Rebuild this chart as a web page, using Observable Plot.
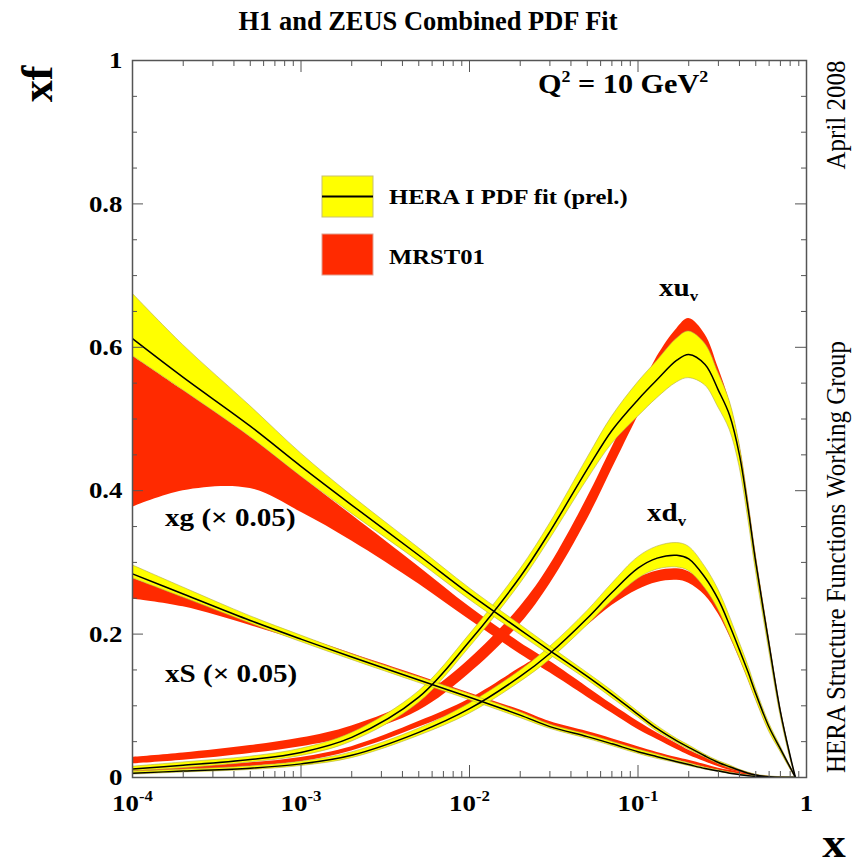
<!DOCTYPE html>
<html><head><meta charset="utf-8">
<script src="https://cdn.jsdelivr.net/npm/d3@7"></script>
<script src="https://cdn.jsdelivr.net/npm/@observablehq/plot@0.6"></script>
<style>body{margin:0;background:#fff} svg{display:block}</style>
</head><body><div id="chart"></div>
<script>
// ---- data ----
const xGrid = [1e-4, 2e-4, 5e-4, 1e-3, 2e-3, 5e-3, 0.01, 0.02, 0.03, 0.05, 0.07, 0.1, 0.13, 0.17, 0.2, 0.25, 0.3, 0.35, 0.4, 0.45, 0.5, 0.6, 0.7, 0.8, 0.86];

// xu_v
const xuvFit    = [0.012,0.017,0.025,0.035,0.056,0.112,0.190,0.280,0.343,0.430,0.484,0.527,0.555,0.582,0.590,0.576,0.540,0.505,0.450,0.375,0.300,0.185,0.092,0.030,0];
const xuvFitLo  = [0.009,0.013,0.021,0.030,0.050,0.104,0.181,0.270,0.332,0.415,0.465,0.503,0.529,0.551,0.557,0.547,0.516,0.485,0.434,0.362,0.289,0.177,0.087,0.027,0];
const xuvFitHi  = [0.015,0.021,0.029,0.040,0.062,0.120,0.199,0.290,0.354,0.445,0.503,0.551,0.581,0.612,0.622,0.605,0.564,0.525,0.466,0.388,0.311,0.193,0.097,0.033,0];
const xuvMrstLo = [0.019,0.024,0.0335,0.043,0.058,0.093,0.145,0.214,0.270,0.360,0.430,0.504,0.557,0.596,0.608,0.588,0.545,0.500,0.444,0.370,0.295,0.181,0.089,0.028,0];
const xuvMrstHi = [0.028,0.034,0.0445,0.055,0.072,0.111,0.165,0.238,0.296,0.390,0.460,0.532,0.587,0.626,0.640,0.618,0.571,0.524,0.466,0.390,0.313,0.195,0.099,0.034,0.002];

// xd_v
const xdvFit    = [0.006,0.009,0.013,0.019,0.031,0.063,0.096,0.141,0.173,0.222,0.258,0.292,0.306,0.310,0.305,0.279,0.248,0.212,0.178,0.147,0.117,0.070,0.040,0.014,0];
const xdvFitLo  = [0.004,0.007,0.0105,0.016,0.027,0.058,0.089,0.133,0.164,0.212,0.246,0.277,0.290,0.293,0.288,0.264,0.234,0.199,0.167,0.137,0.109,0.064,0.036,0.012,0];
const xdvFitHi  = [0.008,0.011,0.0155,0.022,0.035,0.068,0.103,0.149,0.182,0.232,0.270,0.307,0.322,0.327,0.322,0.294,0.262,0.225,0.189,0.157,0.125,0.076,0.044,0.016,0];
const xdvMrstLo = [0.007,0.010,0.0155,0.022,0.037,0.070,0.1005,0.143,0.169,0.212,0.240,0.262,0.272,0.275,0.271,0.254,0.228,0.197,0.166,0.137,0.109,0.065,0.037,0.012,0];
const xdvMrstHi = [0.011,0.014,0.0205,0.028,0.043,0.078,0.1095,0.153,0.179,0.224,0.254,0.278,0.288,0.291,0.287,0.270,0.244,0.211,0.178,0.149,0.119,0.073,0.043,0.016,0.001];

// xg (x 0.05)
const xgFit     = [0.612,0.558,0.490,0.434,0.380,0.310,0.256,0.206,0.177,0.141,0.116,0.088,0.068,0.051,0.042,0.030,0.021,0.015,0.010,0.006,0.0035,0.001,0,0,0];
const xgFitLo   = [0.588,0.540,0.475,0.420,0.368,0.301,0.248,0.199,0.171,0.136,0.111,0.084,0.064,0.048,0.039,0.028,0.019,0.013,0.009,0.005,0.003,0.0005,0,0,0];
const xgFitHi   = [0.675,0.603,0.518,0.452,0.393,0.320,0.264,0.213,0.183,0.146,0.121,0.092,0.072,0.054,0.045,0.032,0.023,0.017,0.011,0.007,0.004,0.0015,0.0005,0,0];
const xgMrstLo  = [0.377,0.400,0.403,0.370,0.330,0.270,0.220,0.172,0.146,0.112,0.090,0.067,0.053,0.039,0.031,0.022,0.015,0.010,0.007,0.004,0.002,0.0005,0,0,0];
const xgMrstHi  = [0.588,0.540,0.475,0.420,0.366,0.294,0.238,0.188,0.162,0.126,0.102,0.078,0.062,0.047,0.038,0.028,0.020,0.014,0.010,0.007,0.004,0.0015,0.0005,0,0];

// xS (x 0.05)
const xsFit     = [0.284,0.256,0.219,0.193,0.168,0.136,0.112,0.087,0.071,0.057,0.047,0.036,0.029,0.022,0.018,0.0125,0.009,0.006,0.004,0.0025,0.0015,0.0005,0,0,0];
const xsFitLo   = [0.278,0.251,0.215,0.189,0.164,0.132,0.108,0.083,0.068,0.054,0.044,0.033,0.026,0.020,0.016,0.011,0.008,0.005,0.0035,0.002,0.001,0,0,0,0];
const xsFitHi   = [0.296,0.265,0.225,0.198,0.172,0.140,0.116,0.091,0.074,0.060,0.050,0.039,0.032,0.024,0.020,0.014,0.010,0.007,0.0045,0.003,0.002,0.001,0,0,0];
const xsMrstLo  = [0.249,0.238,0.212,0.190,0.167,0.136,0.113,0.089,0.073,0.059,0.049,0.038,0.031,0.024,0.020,0.014,0.010,0.007,0.005,0.003,0.002,0.0005,0,0,0];
const xsMrstHi  = [0.278,0.253,0.222,0.197,0.173,0.142,0.118,0.094,0.078,0.064,0.054,0.043,0.035,0.028,0.024,0.018,0.013,0.010,0.007,0.005,0.003,0.0015,0.0005,0,0];

// axis ticks
const xMajor = [1e-4, 1e-3, 1e-2, 1e-1, 1];
const xMinorMantissa = [2, 3, 4, 5, 6, 7, 8, 9];
const xMinor = xMinorMantissa.flatMap(m => [1e-4, 1e-3, 1e-2, 1e-1].map(d => m * d));
const yMajor = [0, 0.2, 0.4, 0.6, 0.8, 1];
const yMinor = [0.05,0.1,0.15,0.25,0.3,0.35,0.45,0.5,0.55,0.65,0.7,0.75,0.85,0.9,0.95];

// ---- build ----
const series = [
  [xuvFit, xuvFitLo, xuvFitHi, xuvMrstLo, xuvMrstHi],
  [xdvFit, xdvFitLo, xdvFitHi, xdvMrstLo, xdvMrstHi],
  [xgFit, xgFitLo, xgFitHi, xgMrstLo, xgMrstHi],
  [xsFit, xsFitLo, xsFitHi, xsMrstLo, xsMrstHi]
].map(([c, lo, hi, mlo, mhi]) => xGrid.map((x, i) => ({x, c: c[i], lo: lo[i], hi: hi[i], mlo: mlo[i], mhi: mhi[i]})));

const W = 857, H = 866, ML = 132, MR = 51, MT = 60, MB = 89;
const FW = W - ML - MR, FH = H - MT - MB;
const YEL = "#ffff00", RED = "#ff2a00", TICK = "#555";
const curve = "catmull-rom";

const marks = [];
for (const s of series) marks.push(Plot.areaY(s, {x: "x", y1: "mlo", y2: "mhi", fill: RED, curve, clip: true}));
for (const s of series) marks.push(Plot.areaY(s, {x: "x", y1: "lo", y2: "hi", fill: YEL, stroke: "#b0aa50", strokeWidth: 0.6, curve, clip: true}));
for (const s of series) marks.push(Plot.lineY(s, {x: "x", y: "c", stroke: "black", strokeWidth: 1.5, curve, clip: true}));

marks.push(
  Plot.tickX(xMajor, {x: d => d, insetTop: FH - 12, stroke: TICK}),
  Plot.tickX(xMajor, {x: d => d, insetBottom: FH - 12, stroke: TICK}),
  Plot.tickX(xMinor, {x: d => d, insetTop: FH - 6, stroke: TICK}),
  Plot.tickX(xMinor, {x: d => d, insetBottom: FH - 6, stroke: TICK}),
  Plot.tickY(yMajor, {y: d => d, insetRight: FW - 11, stroke: TICK}),
  Plot.tickY(yMajor, {y: d => d, insetLeft: FW - 11, stroke: TICK}),
  Plot.tickY(yMinor, {y: d => d, insetRight: FW - 5, stroke: TICK}),
  Plot.tickY(yMinor, {y: d => d, insetLeft: FW - 5, stroke: TICK}),
  Plot.axisX(xMajor, {tickSize: 0, tickPadding: 16, label: null, fontSize: 24,
    tickFormat: d => d === 1 ? "1" : "10|" + Math.round(Math.log10(d))}),
  Plot.axisY(yMajor, {anchor: "left", tickSize: 0, tickPadding: 10, label: null, fontSize: 24,
    tickFormat: d => String(d)}),
  Plot.frame({stroke: TICK, strokeWidth: 1.5})
);

const plot = Plot.plot({
  width: W, height: H,
  marginLeft: ML, marginRight: MR, marginTop: MT, marginBottom: MB,
  x: {type: "log", domain: [1e-4, 1]},
  y: {domain: [0, 1]},
  style: {fontFamily: "'Liberation Serif', 'Times New Roman', serif", fontWeight: "bold", background: "white", color: "black"},
  marks
});
document.getElementById("chart").appendChild(plot);

// ---- post-processing: superscripts + font widening ----
const SX = 1.12;
function stretch(el) {
  const tr = el.getAttribute("transform");
  if (tr) el.setAttribute("transform", tr + ` scale(${SX},1)`);
}
const svg = d3.select(plot);
svg.selectAll('g[aria-label="x-axis tick label"] text').each(function() {
  const t = d3.select(this);
  const s = t.text();
  if (s.includes("|")) {
    const [b, e] = s.split("|");
    t.text(null);
    t.append("tspan").text(b);
    t.append("tspan").attr("dy", -10).attr("font-size", 15).text(e);
  }
  stretch(this);
});
svg.selectAll('g[aria-label="y-axis tick label"] text').each(function() { stretch(this); });

// annotations
function addText(x, y, parts, {size, weight = "bold", anchor = "start", rotate = 0, sx = SX} = {}) {
  const tf = rotate ? `translate(${x},${y}) rotate(${rotate}) scale(1,${sx})` : `translate(${x},${y}) scale(${sx},1)`;
  const t = svg.append("text").attr("transform", tf).attr("font-size", size).attr("font-weight", weight)
    .attr("text-anchor", anchor).attr("fill", "black")
    .attr("font-family", "'Liberation Serif', 'Times New Roman', serif");
  if (typeof parts === "string") parts = [{t: parts}];
  let shift = 0;
  for (const p of parts) {
    const target = p.sup ? -p.shift : p.sub ? p.shift : 0;
    const sp = t.append("tspan").text(p.t).attr("dy", target - shift);
    if (p.size) sp.attr("font-size", p.size);
    shift = target;
  }
  return t;
}

addText(428, 30, "H1 and ZEUS Combined PDF Fit", {size: 27, anchor: "middle", sx: 0.98});
addText(52, 84, "xf", {size: 44, anchor: "middle", rotate: -90, sx: 1});
addText(834, 857, "x", {size: 42, anchor: "middle"});
addText(538, 93, [{t: "Q"}, {t: "2", sup: true, shift: 11, size: 16}, {t: " = 10 GeV"}, {t: "2", sup: true, shift: 11, size: 16}], {size: 27});
addText(845, 115, "April 2008", {size: 25, weight: "normal", anchor: "middle", rotate: -90});
addText(845, 557, "HERA Structure Functions Working Group", {size: 25, weight: "normal", anchor: "middle", rotate: -90});

addText(659, 296, [{t: "xu"}, {t: "v", sub: true, shift: 5, size: 15}], {size: 26});
addText(647, 521, [{t: "xd"}, {t: "v", sub: true, shift: 5, size: 15}], {size: 26});
addText(165, 526, "xg (\u00d7 0.05)", {size: 26});
addText(165, 682, "xS (\u00d7 0.05)", {size: 26});

// legend
svg.append("rect").attr("x", 322).attr("y", 176).attr("width", 51).attr("height", 41).attr("fill", YEL).attr("stroke", "#c8c070");
svg.append("line").attr("x1", 322).attr("x2", 373).attr("y1", 196.5).attr("y2", 196.5).attr("stroke", "black").attr("stroke-width", 2);
svg.append("rect").attr("x", 322).attr("y", 234).attr("width", 51).attr("height", 41).attr("fill", RED).attr("stroke", "#e0a090");
addText(389, 204, "HERA I PDF fit (prel.)", {size: 22});
addText(389, 264, "MRST01", {size: 22});
</script>
</body></html>
